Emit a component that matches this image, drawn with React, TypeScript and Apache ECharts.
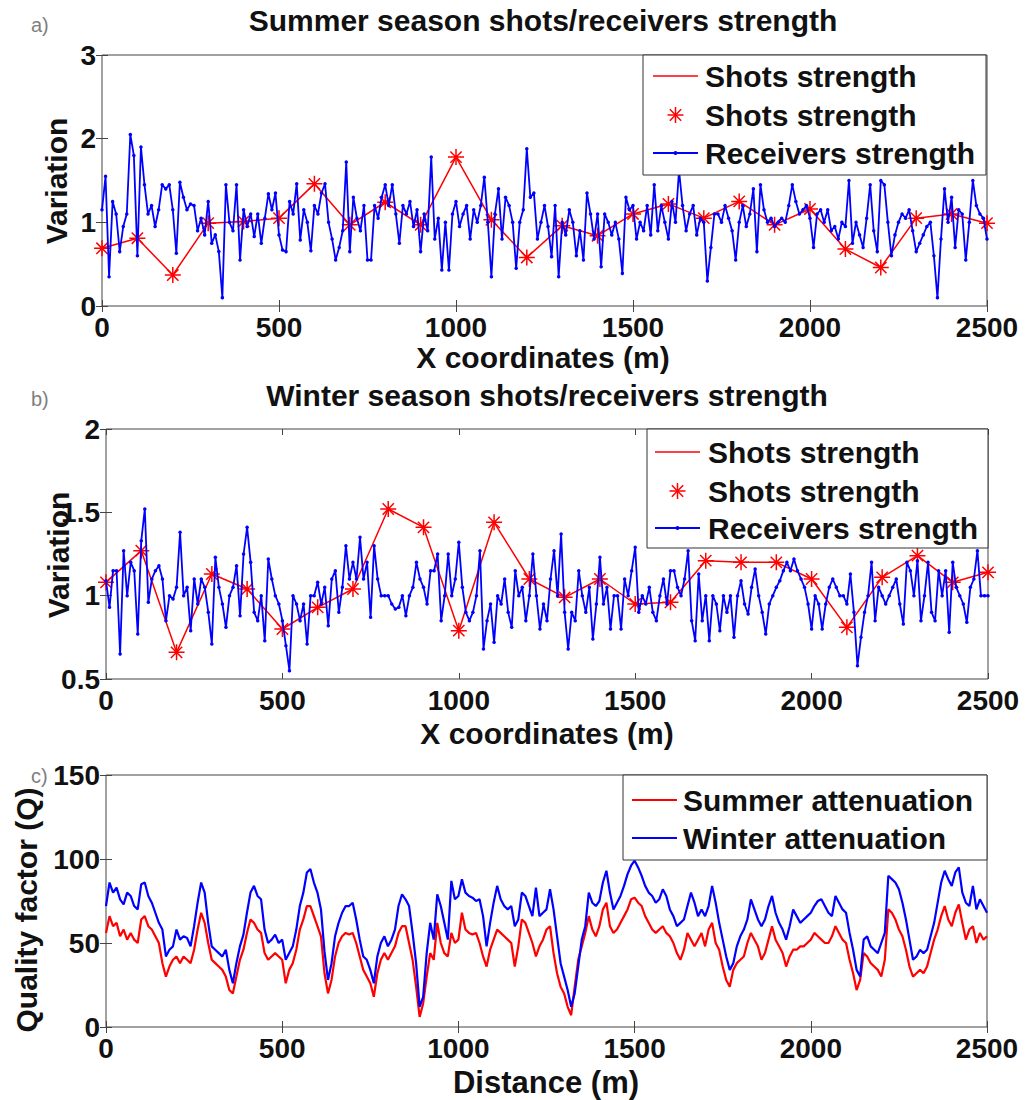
import React, { useEffect, useRef } from "react";
import * as echarts from "echarts";

const FONT = '"Liberation Sans", Arial, Helvetica, sans-serif';

// Panel a/b shots (every 100 m)
const shotX = [0, 100, 200, 300, 400, 500, 600, 700, 800, 900, 1000, 1100, 1200, 1300, 1400, 1500, 1600, 1700, 1800, 1900, 2000, 2100, 2200, 2300, 2400, 2500];
const shotsSummer = [0.69, 0.81, 0.37, 0.99, 1.01, 1.05, 1.46, 0.97, 1.24, 0.97, 1.78, 1.03, 0.58, 0.96, 0.84, 1.1, 1.22, 1.05, 1.25, 0.97, 1.16, 0.68, 0.46, 1.05, 1.1, 0.99];
const shotsWinter = [1.08, 1.27, 0.66, 1.13, 1.04, 0.8, 0.93, 1.04, 1.52, 1.41, 0.79, 1.44, 1.1, 0.99, 1.1, 0.95, 0.96, 1.21, 1.2, 1.2, 1.1, 0.81, 1.11, 1.24, 1.08, 1.14];

// Receivers (every 10 m, 0..2500)
const RECEIVER_STEP = 10;
const receiversSummer = [
  1.15, 1.55, 0.35, 1.25, 1.1, 0.65, 0.95, 1.1, 2.05, 1.8,
  0.6, 1.9, 1.45, 1.1, 1.2, 0.95, 1.15, 1.45, 1.4, 1.45,
  1.15, 0.63, 1.48, 1.3, 1.15, 1.22, 1.2, 0.9, 1.05, 0.85,
  1.25, 0.75, 0.85, 0.65, 0.1, 1.45, 1.0, 0.9, 1.45, 0.55,
  1.15, 0.95, 1.1, 0.83, 1.1, 0.75, 1.05, 1.34, 1.15, 1.35,
  0.85, 0.67, 0.65, 1.25, 1.1, 1.46, 0.79, 1.15, 1.0, 0.66,
  1.2, 1.1, 1.35, 1.46, 1.0, 0.8, 0.55, 0.7, 0.9, 1.72,
  0.65, 1.3, 1.05, 0.9, 1.2, 0.55, 0.55, 1.2, 1.05, 1.3,
  1.45, 1.2, 1.45, 1.1, 0.75, 1.2, 1.1, 1.25, 0.95, 1.15,
  0.65, 1.1, 0.9, 1.78, 0.8, 1.05, 0.43, 1.0, 0.43, 1.1,
  1.25, 0.95, 1.1, 1.2, 0.8, 1.15, 1.0, 1.2, 1.54, 1.0,
  0.35, 1.1, 1.4, 0.8, 1.3, 1.2, 1.0, 0.45, 1.0, 1.15,
  1.88, 1.3, 1.35, 0.8, 1.0, 1.2, 0.95, 0.59, 1.2, 0.35,
  1.0, 0.85, 1.15, 1.0, 0.6, 0.9, 0.55, 1.35, 1.1, 0.8,
  1.1, 0.47, 1.1, 1.0, 0.85, 1.0, 0.8, 0.39, 1.3, 1.15,
  1.2, 0.8, 1.0, 0.9, 1.2, 0.85, 1.45, 0.9, 1.2, 1.0,
  0.8, 1.25, 1.0, 1.62, 1.2, 0.9, 1.1, 1.2, 0.85, 1.05,
  1.0, 0.3, 0.7, 1.1, 1.1, 1.0, 1.2, 1.05, 0.9, 0.55,
  1.0, 1.2, 0.95, 1.1, 1.4, 0.65, 1.45, 1.15, 1.0, 1.05,
  0.95, 1.0, 1.05, 1.0, 1.2, 1.45, 1.25, 1.1, 1.15, 1.2,
  1.05, 0.7, 1.1, 1.15, 1.0, 1.15, 0.9, 0.95, 0.8, 1.0,
  0.95, 1.5, 0.75, 1.0, 0.85, 0.7, 1.05, 1.45, 0.9, 0.65,
  1.5, 1.45, 1.0, 0.6, 0.85, 1.0, 1.1, 1.05, 1.15, 0.9,
  0.65, 0.75, 0.85, 0.95, 1.0, 0.6, 0.1, 0.8, 1.4, 1.0,
  1.3, 0.7, 1.15, 1.1, 0.55, 1.0, 1.5, 1.2, 1.1, 1.05,
  0.8,
];
const receiversWinter = [
  1.09, 0.93, 1.15, 1.15, 0.65, 1.27, 1.0, 1.2, 1.15, 0.77,
  1.33, 1.52, 0.96, 1.1, 1.15, 1.18, 1.1, 0.85, 1.0, 0.98,
  1.05, 1.38, 1.0, 1.05, 0.79, 1.1, 0.95, 1.1, 1.05, 0.9,
  0.71, 1.23, 1.05, 0.95, 0.81, 1.0, 1.05, 1.18, 0.88, 1.25,
  1.41, 1.2, 0.9, 0.85, 1.0, 0.73, 1.22, 1.1, 1.0, 0.95,
  0.85, 0.7, 0.55, 1.0, 0.95, 0.85, 0.95, 0.71, 1.0, 1.0,
  1.08, 0.95, 1.05, 0.82, 1.1, 1.15, 0.9, 1.05, 1.3, 1.1,
  1.2, 1.1, 1.35, 1.1, 1.2, 0.87, 1.3, 1.1, 1.0, 1.0,
  1.0, 0.95, 0.92, 0.93, 1.0, 0.88, 1.0, 1.05, 1.2, 1.1,
  1.05, 0.95, 1.15, 1.15, 1.25, 0.85, 1.0, 1.25, 1.0, 1.1,
  1.32, 1.05, 0.9, 0.85, 0.9, 1.0, 1.27, 0.68, 0.85, 0.95,
  0.72, 1.0, 0.95, 1.1, 0.9, 0.81, 1.15, 1.0, 1.05, 0.85,
  1.0, 1.25, 1.0, 0.8, 0.95, 0.85, 1.1, 1.27, 1.0, 1.37,
  0.9, 0.68, 0.9, 0.85, 1.15, 1.0, 0.9, 1.05, 0.74, 0.95,
  1.23, 0.95, 1.05, 0.8, 1.0, 1.0, 0.8, 1.1, 1.0, 1.15,
  1.29, 0.9, 1.0, 0.95, 1.05, 0.9, 0.85, 1.0, 1.1, 0.95,
  1.15, 1.15, 1.05, 1.0, 1.1, 1.27, 0.85, 0.73, 1.13, 0.85,
  1.0, 0.73, 1.0, 0.95, 0.79, 1.0, 0.9, 1.0, 0.75, 1.0,
  1.09, 0.95, 0.89, 1.05, 1.16, 1.0, 0.9, 0.77, 0.95, 1.0,
  1.05, 1.09, 1.15, 1.2, 1.15, 1.22, 1.15, 1.1, 1.05, 0.95,
  0.8, 1.0, 0.95, 0.8, 0.95, 1.05, 1.1, 1.05, 1.0, 1.0,
  0.95, 1.13, 0.9, 0.58, 0.75, 0.9, 1.0, 1.2, 0.85, 1.05,
  1.0, 0.95, 1.0, 1.05, 1.1, 0.95, 0.83, 1.2, 1.15, 1.0,
  1.21, 0.85, 1.0, 1.2, 0.9, 0.85, 1.15, 1.0, 1.15, 0.78,
  1.2, 1.05, 1.0, 0.95, 0.84, 1.05, 1.1, 1.27, 1.0, 1.0,
  1.0,
];

// Panel c quality factor (every 10 m)
const Q_STEP = 10;
const summerQ = [
  56, 66, 60, 62, 54, 58, 52, 56, 52, 50,
  64, 66, 60, 58, 54, 50, 38, 30, 36, 40,
  42, 38, 42, 40, 38, 46, 58, 68, 62, 50,
  40, 38, 36, 34, 30, 22, 20, 30, 40, 46,
  56, 64, 62, 58, 56, 44, 40, 42, 44, 42,
  40, 26, 34, 38, 46, 58, 64, 72, 72, 66,
  60, 54, 32, 20, 28, 42, 50, 54, 56, 55,
  56, 50, 42, 34, 30, 26, 18, 32, 40, 44,
  40, 44, 48, 56, 60, 60, 50, 40, 24, 6,
  14, 30, 44, 40, 62, 50, 44, 42, 56, 50,
  52, 68, 58, 56, 55, 56, 50, 42, 36, 46,
  52, 58, 56, 54, 52, 50, 36, 48, 64, 62,
  56, 50, 42, 48, 52, 58, 60, 44, 32, 24,
  20, 12, 7, 24, 40, 48, 56, 66, 58, 54,
  60, 70, 74, 60, 56, 58, 62, 66, 70, 76,
  77, 74, 72, 66, 62, 58, 56, 58, 60, 56,
  54, 50, 44, 40, 46, 56, 52, 48, 52, 56,
  48, 58, 62, 50, 46, 36, 28, 24, 34, 38,
  40, 42, 50, 56, 52, 48, 40, 44, 52, 60,
  52, 48, 44, 36, 42, 46, 46, 48, 48, 50,
  52, 56, 54, 52, 50, 50, 54, 60, 56, 52,
  50, 40, 32, 22, 28, 44, 42, 38, 36, 34,
  30, 40, 70, 68, 64, 58, 54, 46, 36, 30,
  32, 34, 32, 36, 44, 52, 58, 66, 72, 64,
  60, 68, 73, 62, 52, 58, 60, 50, 56, 52,
  54,
];
const winterQ = [
  72, 86, 80, 83, 76, 73, 80, 78, 72, 70,
  85, 86, 78, 74, 68, 62, 58, 42, 46, 48,
  58, 52, 54, 53, 48, 60, 74, 86, 80, 62,
  48, 46, 44, 42, 46, 34, 26, 38, 48, 55,
  68, 80, 84, 78, 76, 58, 50, 52, 55, 50,
  52, 40, 44, 48, 58, 72, 80, 92, 94, 86,
  80, 70, 45, 28, 38, 54, 62, 68, 72, 72,
  74, 64, 52, 42, 40, 34, 26, 42, 50, 54,
  48, 52, 58, 72, 79, 76, 72, 56, 38, 12,
  18, 44, 62, 52, 79, 72, 62, 52, 87, 76,
  78, 88, 80, 78, 77, 75, 76, 66, 48, 62,
  74, 84, 76, 72, 70, 72, 60, 64, 80, 78,
  72, 66, 83, 66, 68, 70, 82, 70, 54, 38,
  30, 22, 12, 20, 36, 52, 60, 80, 74, 72,
  75, 86, 93, 80, 70, 74, 78, 84, 91, 96,
  99, 95, 90, 84, 80, 78, 74, 76, 82, 78,
  70, 66, 60, 62, 64, 72, 80, 74, 66, 70,
  66, 72, 84, 74, 62, 52, 42, 34, 38, 48,
  54, 58, 64, 76, 70, 64, 60, 64, 72, 78,
  68, 62, 58, 52, 60, 70, 66, 62, 64, 66,
  68, 72, 75, 76, 72, 68, 66, 78, 74, 70,
  68, 56, 46, 34, 30, 52, 54, 48, 46, 44,
  50, 56, 90, 88, 86, 82, 74, 64, 52, 40,
  42, 46, 44, 46, 54, 62, 74, 86, 93, 88,
  84, 92, 95, 80, 74, 72, 84, 70, 76, 72,
  68,
];

const xTicks = { min: 0, max: 2500, interval: 500 };
const yRanges = [
  { min: 0, max: 3, interval: 1 },
  { min: 0.5, max: 2, interval: 0.5 },
  { min: 0, max: 150, interval: 50 },
];

const RED = "#ff0000";
const BLUE = "#0000ff";
const STAR = "path://M0,-10L0,10M-10,0L10,0M-7.07,-7.07L7.07,7.07M-7.07,7.07L7.07,-7.07";

const grids = [
  { left: 102, top: 55, width: 885, height: 251 },
  { left: 106, top: 429, width: 882, height: 250 },
  { left: 106, top: 775, width: 881, height: 252 },
];

function pairs(xs: number[], ys: number[]) {
  return ys.map((v, i) => [xs[i], v]);
}
function stepPairs(step: number, ys: number[]) {
  return ys.map((v, i) => [i * step, v]);
}

function txt(text: string, x: number, y: number, size: number, o: any = {}) {
  return {
    type: "text",
    x,
    y,
    z: 100,
    rotation: o.rot || 0,
    style: {
      text,
      fill: o.color || "#111",
      fontSize: size,
      fontWeight: o.weight || "bold",
      fontFamily: FONT,
      textAlign: o.align || "center",
      textVerticalAlign: "middle",
    },
  };
}
function seg(x1: number, y1: number, x2: number, y2: number, color: string, w: number) {
  return { type: "line", z: 101, shape: { x1, y1, x2, y2 }, style: { stroke: color, lineWidth: w } };
}
function starGfx(cx: number, cy: number, r: number) {
  const d = r * 0.707;
  return [
    seg(cx, cy - r, cx, cy + r, RED, 1.5),
    seg(cx - r, cy, cx + r, cy, RED, 1.5),
    seg(cx - d, cy - d, cx + d, cy + d, RED, 1.5),
    seg(cx - d, cy + d, cx + d, cy - d, RED, 1.5),
  ];
}
function box(x: number, y: number, w: number, h: number) {
  return { type: "rect", z: 99, shape: { x, y, width: w, height: h }, style: { fill: "#fff", stroke: "#333", lineWidth: 1 } };
}

const LEG_FONT = 30;

function shotsLegend(bx: number, by: number, bw: number, bh: number, rows: number[], lx1: number, lx2: number, tx: number) {
  const cx = (lx1 + lx2) / 2;
  return [
    box(bx, by, bw, bh),
    seg(lx1, rows[0], lx2, rows[0], RED, 1.5),
    txt("Shots strength", tx, rows[0], LEG_FONT, { align: "left" }),
    ...starGfx(cx, rows[1], 8),
    txt("Shots strength", tx, rows[1], LEG_FONT, { align: "left" }),
    seg(lx1, rows[2], lx2, rows[2], BLUE, 1.8),
    { type: "circle", z: 102, shape: { cx, cy: rows[2], r: 2 }, style: { fill: BLUE } },
    txt("Receivers strength", tx, rows[2], LEG_FONT, { align: "left" }),
  ];
}

export default function App() {
  const ref = useRef<HTMLDivElement>(null);
  useEffect(() => {
    document.body.style.margin = "0";
    if (!ref.current) return;
    const chart = echarts.init(ref.current, undefined, { renderer: "svg" });

    const axisLabelBase = { fontSize: 28, fontWeight: "bold", color: "#111", fontFamily: FONT, formatter: (v: number) => String(v) };
    const tick = { show: true, inside: true, length: 6, lineStyle: { color: "#444", width: 1 } };

    const xAxis: any[] = [];
    const yAxis: any[] = [];
    grids.forEach((_, i) => {
      xAxis.push({
        type: "value", gridIndex: i, ...xTicks, position: "bottom",
        axisLine: { show: false }, axisTick: tick, splitLine: { show: false },
        axisLabel: { ...axisLabelBase, margin: 7 },
      });
      yAxis.push({
        type: "value", gridIndex: i, ...yRanges[i], position: "left",
        axisLine: { show: false }, axisTick: tick, splitLine: { show: false },
        axisLabel: { ...axisLabelBase, margin: 6 },
      });
    });
    grids.forEach((_, i) => {
      xAxis.push({
        type: "value", gridIndex: i, ...xTicks, position: "top",
        axisLine: { show: false }, axisTick: tick, splitLine: { show: false }, axisLabel: { show: false },
      });
      yAxis.push({
        type: "value", gridIndex: i, ...yRanges[i], position: "right",
        axisLine: { show: false }, axisTick: tick, splitLine: { show: false }, axisLabel: { show: false },
      });
    });

    const shotLine = (idx: number, ys: number[]) => ({
      type: "line", xAxisIndex: idx, yAxisIndex: idx, data: pairs(shotX, ys),
      symbol: "none", lineStyle: { color: RED, width: 1.5 }, z: 2,
    });
    const shotStars = (idx: number, ys: number[]) => ({
      type: "scatter", xAxisIndex: idx, yAxisIndex: idx, data: pairs(shotX, ys),
      symbol: STAR, symbolSize: 16, itemStyle: { color: RED, borderColor: RED, borderWidth: 1.5, opacity: 1 }, z: 3,
    });
    const recv = (idx: number, ys: number[]) => ({
      type: "line", xAxisIndex: idx, yAxisIndex: idx, data: stepPairs(RECEIVER_STEP, ys),
      symbol: "circle", symbolSize: 3.5, showAllSymbol: true,
      lineStyle: { color: BLUE, width: 1.8 }, itemStyle: { color: BLUE, borderWidth: 0 }, z: 4,
    });

    const option: any = {
      animation: false,
      backgroundColor: "#fff",
      grid: grids.map((g) => ({ ...g, show: true, borderColor: "#444", borderWidth: 1, backgroundColor: "transparent" })),
      xAxis,
      yAxis,
      series: [
        shotLine(0, shotsSummer),
        shotStars(0, shotsSummer),
        recv(0, receiversSummer),
        shotLine(1, shotsWinter),
        shotStars(1, shotsWinter),
        recv(1, receiversWinter),
        {
          type: "line", xAxisIndex: 2, yAxisIndex: 2, data: stepPairs(Q_STEP, summerQ),
          symbol: "none", lineStyle: { color: RED, width: 2.2 }, z: 2,
        },
        {
          type: "line", xAxisIndex: 2, yAxisIndex: 2, data: stepPairs(Q_STEP, winterQ),
          symbol: "none", lineStyle: { color: BLUE, width: 2.2 }, z: 3,
        },
      ],
      graphic: [
        txt("a)", 31, 25, 20, { align: "left", weight: "normal", color: "#7f7f7f" }),
        txt("b)", 31, 399, 20, { align: "left", weight: "normal", color: "#7f7f7f" }),
        txt("c)", 31, 776, 20, { align: "left", weight: "normal", color: "#7f7f7f" }),
        txt("Summer season shots/receivers strength", 543, 20, 30),
        txt("Winter season shots/receivers strength", 547, 395, 30),
        txt("X coordinates (m)", 543, 357, 30),
        txt("X coordinates (m)", 547, 733, 30),
        txt("Distance (m)", 546, 1082, 31),
        txt("Variation", 56, 181, 30, { rot: Math.PI / 2 }),
        txt("Variation", 58, 555, 30, { rot: Math.PI / 2 }),
        txt("Quality factor (Q)", 26, 910, 30, { rot: Math.PI / 2 }),
        ...shotsLegend(643, 55, 343, 120, [76, 115, 153], 653, 698, 705),
        ...shotsLegend(647, 429, 341, 119, [452, 491, 528], 655, 700, 708),
        box(623, 775, 364, 85),
        seg(632, 800, 677, 800, RED, 2),
        txt("Summer attenuation", 683, 800, 30, { align: "left" }),
        seg(632, 838, 677, 838, BLUE, 2),
        txt("Winter attenuation", 683, 838, 30, { align: "left" }),
      ],
    };
    chart.setOption(option);
    return () => chart.dispose();
  }, []);
  return <div ref={ref} style={{ width: 1026, height: 1100 }} />;
}
